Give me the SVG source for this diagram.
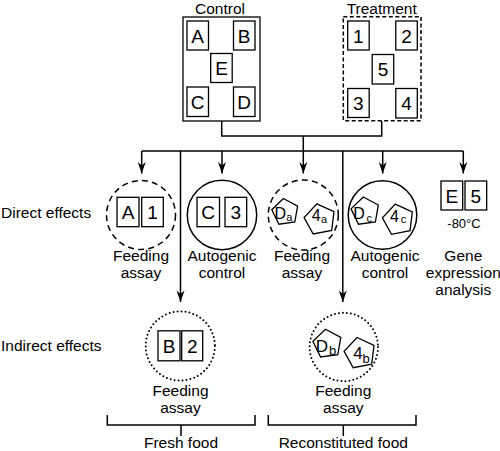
<svg xmlns="http://www.w3.org/2000/svg" width="500" height="451" viewBox="0 0 500 451">
<style>
text{font-family:"Liberation Sans",Arial,sans-serif;fill:#000}
.lbl{font-size:15.5px;text-anchor:middle}
.side{font-size:15.5px}
.bl{font-size:19px;text-anchor:middle}
.pt{font-size:16px}
.sub{font-size:11px}
.box{fill:#fff;stroke:#000;stroke-width:1.3}
.ln{fill:none;stroke:#000;stroke-width:1.5}
.pent{fill:#fff;stroke:#000;stroke-width:1.3;stroke-linejoin:miter}
.solid{fill:none;stroke:#000;stroke-width:1.5}
.dash{fill:none;stroke:#000;stroke-width:1.5;stroke-dasharray:6 4.2}
.dot{fill:none;stroke:#000;stroke-width:2;stroke-dasharray:0 4;stroke-linecap:round}
</style>
<defs>
<marker id="ah" markerUnits="userSpaceOnUse" markerWidth="14" markerHeight="10" viewBox="-12 -5 13 10" refX="0" refY="0" orient="auto">
<path d="M0,0 L-11.5,-4 L-8,0 L-11.5,4 Z" fill="#000"/>
</marker>
</defs>

<g id="control">
<text class="lbl" x="220" y="13.5" font-size="15px">Control</text>
<rect class="box" x="183" y="17" width="77" height="104"/>
<rect class="box" x="187" y="21" width="21.5" height="29"/><text class="bl" x="197.7" y="42.5">A</text>
<rect class="box" x="233.5" y="21" width="21.5" height="29"/><text class="bl" x="244.2" y="42.5">B</text>
<rect class="box" x="210.7" y="53.5" width="21.5" height="29"/><text class="bl" x="221.5" y="75">E</text>
<rect class="box" x="187" y="87" width="21.5" height="29.5"/><text class="bl" x="197.7" y="108.7">C</text>
<rect class="box" x="233.5" y="87" width="21.5" height="29.5"/><text class="bl" x="244.2" y="108.7">D</text>
</g>

<g id="treatment">
<text class="lbl" x="381.7" y="13.5">Treatment</text>
<rect x="343.3" y="16.7" width="77.7" height="104" fill="none" stroke="#000" stroke-width="1.5" stroke-dasharray="4 2.5"/>
<rect class="box" x="347.7" y="21" width="21.5" height="29"/><text class="bl" x="358.4" y="42.5">1</text>
<rect class="box" x="395.8" y="21" width="21.5" height="29"/><text class="bl" x="406.5" y="42.5">2</text>
<rect class="box" x="372.2" y="54.5" width="21.5" height="29.5"/><text class="bl" x="383" y="76">5</text>
<rect class="box" x="347.7" y="88.5" width="21.5" height="29"/><text class="bl" x="358.4" y="110">3</text>
<rect class="box" x="395.8" y="88.5" width="21.5" height="29.5"/><text class="bl" x="406.5" y="110">4</text>
</g>

<g id="connectors">
<path class="ln" d="M221.7,121 V136 H381.7 V121 M303.3,136 V151 M141.7,151 H463.3"/>
<path class="ln" marker-end="url(#ah)" d="M141.7,151 V173.5"/>
<path class="ln" marker-end="url(#ah)" d="M222,151 V173.5"/>
<path class="ln" marker-end="url(#ah)" d="M303.3,151 V173.5"/>
<path class="ln" marker-end="url(#ah)" d="M382.7,151 V173.5"/>
<path class="ln" marker-end="url(#ah)" d="M463.3,151 V173.5"/>
<path class="ln" marker-end="url(#ah)" d="M180.5,151 V302"/>
<path class="ln" marker-end="url(#ah)" d="M342.8,151 V302"/>
<path class="ln" d="M107.3,415 V425 H255 V415 M181,425 V436"/>
<path class="ln" d="M268.3,415 V425 H416 V415 M343.3,425 V436"/>
</g>

<g id="direct-label"><text class="side" x="1" y="218">Direct effects</text></g>
<g id="indirect-label"><text class="side" x="1" y="351">Indirect effects</text></g>

<g id="feeding-a1">
<circle class="dash" cx="141" cy="215" r="34.5"/>
<rect class="box" x="117" y="197.3" width="22" height="29.4"/><text class="bl" x="128" y="219">A</text>
<rect class="box" x="141.7" y="197.3" width="21.6" height="29.4"/><text class="bl" x="152.5" y="219">1</text>
<text class="lbl" x="141" y="260.5">Feeding</text>
<text class="lbl" x="141" y="277.5">assay</text>
</g>

<g id="autogenic-c3">
<circle class="solid" cx="222" cy="215" r="34.7"/>
<rect class="box" x="197" y="197.3" width="22.5" height="29.4"/><text class="bl" x="208.2" y="219">C</text>
<rect class="box" x="225" y="197.3" width="21.7" height="29.4"/><text class="bl" x="235.8" y="219">3</text>
<text class="lbl" x="222" y="260.5">Autogenic</text>
<text class="lbl" x="222" y="277.5">control</text>
</g>

<g id="feeding-da4a">
<circle class="dash" cx="303.3" cy="215" r="35"/>
<polygon class="pent" points="283.4,198.5 297.6,206.1 294.8,222.0 278.9,224.2 271.8,209.7"/>
<text class="pt" x="274.5" y="218.5">D<tspan class="sub" x="286.3" y="221.3">a</tspan></text>
<polygon class="pent" points="316.9,203.8 334.0,211.7 331.7,230.4 313.2,234.0 304.1,217.6"/>
<text class="pt" x="311.7" y="220.8">4<tspan class="sub" x="321" y="222.7">a</tspan></text>
<text class="lbl" x="302" y="260.5">Feeding</text>
<text class="lbl" x="302" y="277.5">assay</text>
</g>

<g id="autogenic-dc4c">
<circle class="solid" cx="382.5" cy="215" r="34.3"/>
<polygon class="pent" points="363.3,197.0 378.3,205.0 375.4,221.8 358.5,224.2 351.0,208.9"/>
<text class="pt" x="353.3" y="219.3">D<tspan class="sub" x="366.5" y="222">c</tspan></text>
<polygon class="pent" points="395.3,204.1 412.3,212.0 410.0,230.7 391.5,234.3 382.4,217.9"/>
<text class="pt" x="390" y="221.7">4<tspan class="sub" x="400.8" y="223.3">c</tspan></text>
<text class="lbl" x="385" y="260.5">Autogenic</text>
<text class="lbl" x="385" y="277.5">control</text>
</g>

<g id="gene-expression">
<rect class="box" x="441" y="181" width="21.7" height="29"/><text class="bl" x="451.8" y="202.5">E</text>
<rect class="box" x="465" y="181" width="21.7" height="29"/><text class="bl" x="475.8" y="202.5">5</text>
<text x="464" y="228" font-size="13" text-anchor="middle">-80°C</text>
<text class="lbl" x="463.3" y="260.5">Gene</text>
<text class="lbl" x="463.3" y="277.5">expression</text>
<text class="lbl" x="463.3" y="294.5">analysis</text>
</g>

<g id="feeding-b2">
<circle class="dot" cx="180.3" cy="346" r="34.6"/>
<rect class="box" x="158" y="330.8" width="22" height="30"/><text class="bl" x="169" y="353">B</text>
<rect class="box" x="181.7" y="330.8" width="21" height="30"/><text class="bl" x="192.2" y="353">2</text>
<text class="lbl" x="180.5" y="396">Feeding</text>
<text class="lbl" x="180.5" y="413">assay</text>
</g>

<g id="feeding-db4b">
<circle class="dot" cx="343.8" cy="347" r="34.2"/>
<polygon class="pent" points="325.4,329.2 340.8,337.4 337.8,354.6 320.6,357.0 312.9,341.3"/>
<text x="315.7" y="351.7" font-size="17">D<tspan x="329" y="355" font-size="13">b</tspan></text>
<polygon class="pent" points="357.0,337.5 374.0,345.4 371.7,364.1 353.2,367.7 344.1,351.3"/>
<text x="353.3" y="359.3" font-size="17">4<tspan x="362.5" y="362.7" font-size="13">b</tspan></text>
<text class="lbl" x="343.3" y="396">Feeding</text>
<text class="lbl" x="343.3" y="413">assay</text>
</g>

<g id="food-labels">
<text class="lbl" x="181" y="447.5">Fresh food</text>
<text class="lbl" x="343.3" y="447.5">Reconstituted food</text>
</g>
</svg>
